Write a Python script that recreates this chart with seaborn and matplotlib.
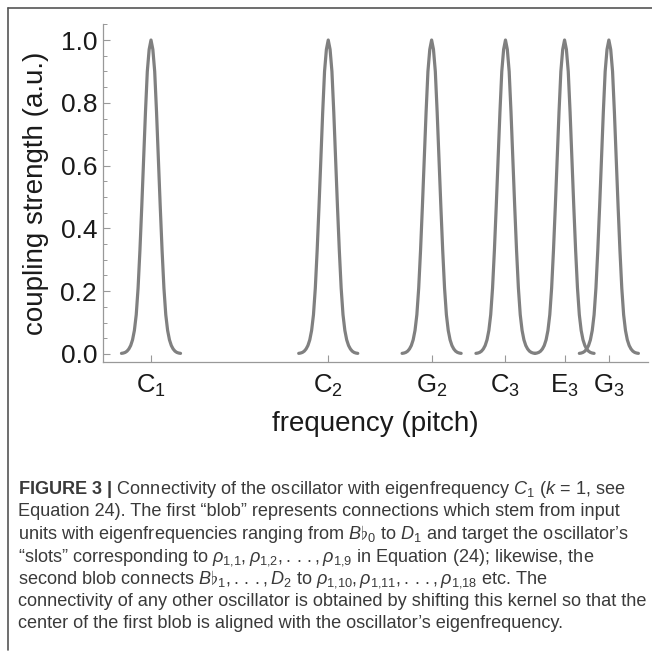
import numpy as np
import pandas as pd
import seaborn as sns
import matplotlib.pyplot as plt
from matplotlib.lines import Line2D
from matplotlib.ticker import MultipleLocator, FormatStrFormatter

# notes where a blob is centred (semitones above C1)
note_labels = ["C$_1$", "C$_2$", "G$_2$", "C$_3$", "E$_3$", "G$_3$"]
note_semitones = [0, 12, 19, 24, 28, 31]

# one blob: offset from the centre (semitones) -> strength
blob_offsets = [0.0, 0.125, 0.25, 0.375, 0.5, 0.625, 0.75, 0.875, 1.0,
                1.125, 1.25, 1.375, 1.5, 1.625, 1.75, 1.875, 2.0]
blob_strength = [1.00, 0.97, 0.90, 0.77, 0.62, 0.47, 0.33, 0.21, 0.125,
                 0.075, 0.045, 0.027, 0.016, 0.009, 0.005, 0.003, 0.002]

y_ticks = [0.0, 0.2, 0.4, 0.6, 0.8, 1.0]

dots = r".\,.\,."
caption_lines = [
    r"$\mathbf{FIGURE\ 3\ |}$ Connectivity of the oscillator with eigenfrequency $C_1$ ($k$ = 1, see",
    "Equation 24). The first “blob” represents connections which stem from input",
    "units with eigenfrequencies ranging from $B\\flat_0$ to $D_1$ and target the oscillator’s",
    "“slots” corresponding to $\\rho_{1{,}1}, \\rho_{1{,}2}, " + dots
    + ", \\rho_{1{,}9}$ in Equation (24); likewise, the",
    "second blob connects $B\\flat_1, " + dots + ", D_2$ to $\\rho_{1{,}10}, \\rho_{1{,}11}, "
    + dots + ", \\rho_{1{,}18}$ etc. The",
    "connectivity of any other oscillator is obtained by shifting this kernel so that the",
    "center of the first blob is aligned with the oscillator’s eigenfrequency.",
]

sns.set_theme(style="ticks")
plt.rcParams["font.family"] = ["Liberation Sans", "DejaVu Sans"]
plt.rcParams["mathtext.fontset"] = "custom"
plt.rcParams["mathtext.rm"] = "Liberation Sans"
plt.rcParams["mathtext.it"] = "Liberation Sans:italic"
plt.rcParams["mathtext.bf"] = "Liberation Sans:bold"

# build long table: each blob is the mirrored profile shifted to its note
half_x = np.array(blob_offsets)
half_y = np.array(blob_strength)
prof_x = np.concatenate([-half_x[:0:-1], half_x])
prof_y = np.concatenate([half_y[:0:-1], half_y])
frames = []
for name, centre in zip(note_labels, note_semitones):
    frames.append(pd.DataFrame({"semitone": centre + prof_x,
                                "strength": prof_y,
                                "note": name}))
df = pd.concat(frames, ignore_index=True)

W, H = 652, 654
fig = plt.figure(figsize=(W / 100, H / 100), dpi=100)
ax = fig.add_axes([103 / W, 1 - 362 / H, 545 / W, 338 / H])

sns.lineplot(data=df, x="semitone", y="strength", units="note", estimator=None,
             color="#808080", linewidth=2.3, legend=False, ax=ax)

ax.set_xlim(-3.25, 33.65)
ax.set_ylim(-0.0255, 1.051)

ax.set_xticks(note_semitones, labels=note_labels)
ax.set_yticks(y_ticks)
ax.yaxis.set_major_formatter(FormatStrFormatter("%.1f"))
ax.yaxis.set_minor_locator(MultipleLocator(0.05))

ax.tick_params(axis="x", direction="in", length=5, width=0.8, color="#999999",
               pad=7.5, labelsize=18.5, labelcolor="#1a1a1a")
ax.tick_params(axis="y", which="major", direction="in", length=5, width=0.8,
               color="#999999", pad=4.3, labelsize=19, labelcolor="#1a1a1a")
ax.tick_params(axis="y", which="minor", direction="in", length=3, width=0.7,
               color="#999999")

for side in ["top", "right"]:
    ax.spines[side].set_visible(False)
for side in ["left", "bottom"]:
    ax.spines[side].set_color("#999999")
    ax.spines[side].set_linewidth(0.9)

ax.set_xlabel("frequency (pitch)", fontsize=20, color="#1a1a1a", labelpad=9)
ax.set_ylabel("coupling strength (a.u.)", fontsize=20, color="#1a1a1a", labelpad=8)

# frame round the figure panel (top and left only)
fig.add_artist(Line2D([7.5 / W, 1.0], [1 - 8 / H, 1 - 8 / H],
                      transform=fig.transFigure, color="#555555", lw=1.2))
fig.add_artist(Line2D([7.5 / W, 7.5 / W], [1 - 8 / H, 1 - 650 / H],
                      transform=fig.transFigure, color="#555555", lw=1.2))

# caption
base0, step = 494, 22.4
for i, line in enumerate(caption_lines):
    fig.text(18 / W, 1 - (base0 + i * step) / H, line, ha="left", va="baseline",
             fontsize=13.1, color="#3a3a3a")

fig.savefig("out.png", dpi=100)
